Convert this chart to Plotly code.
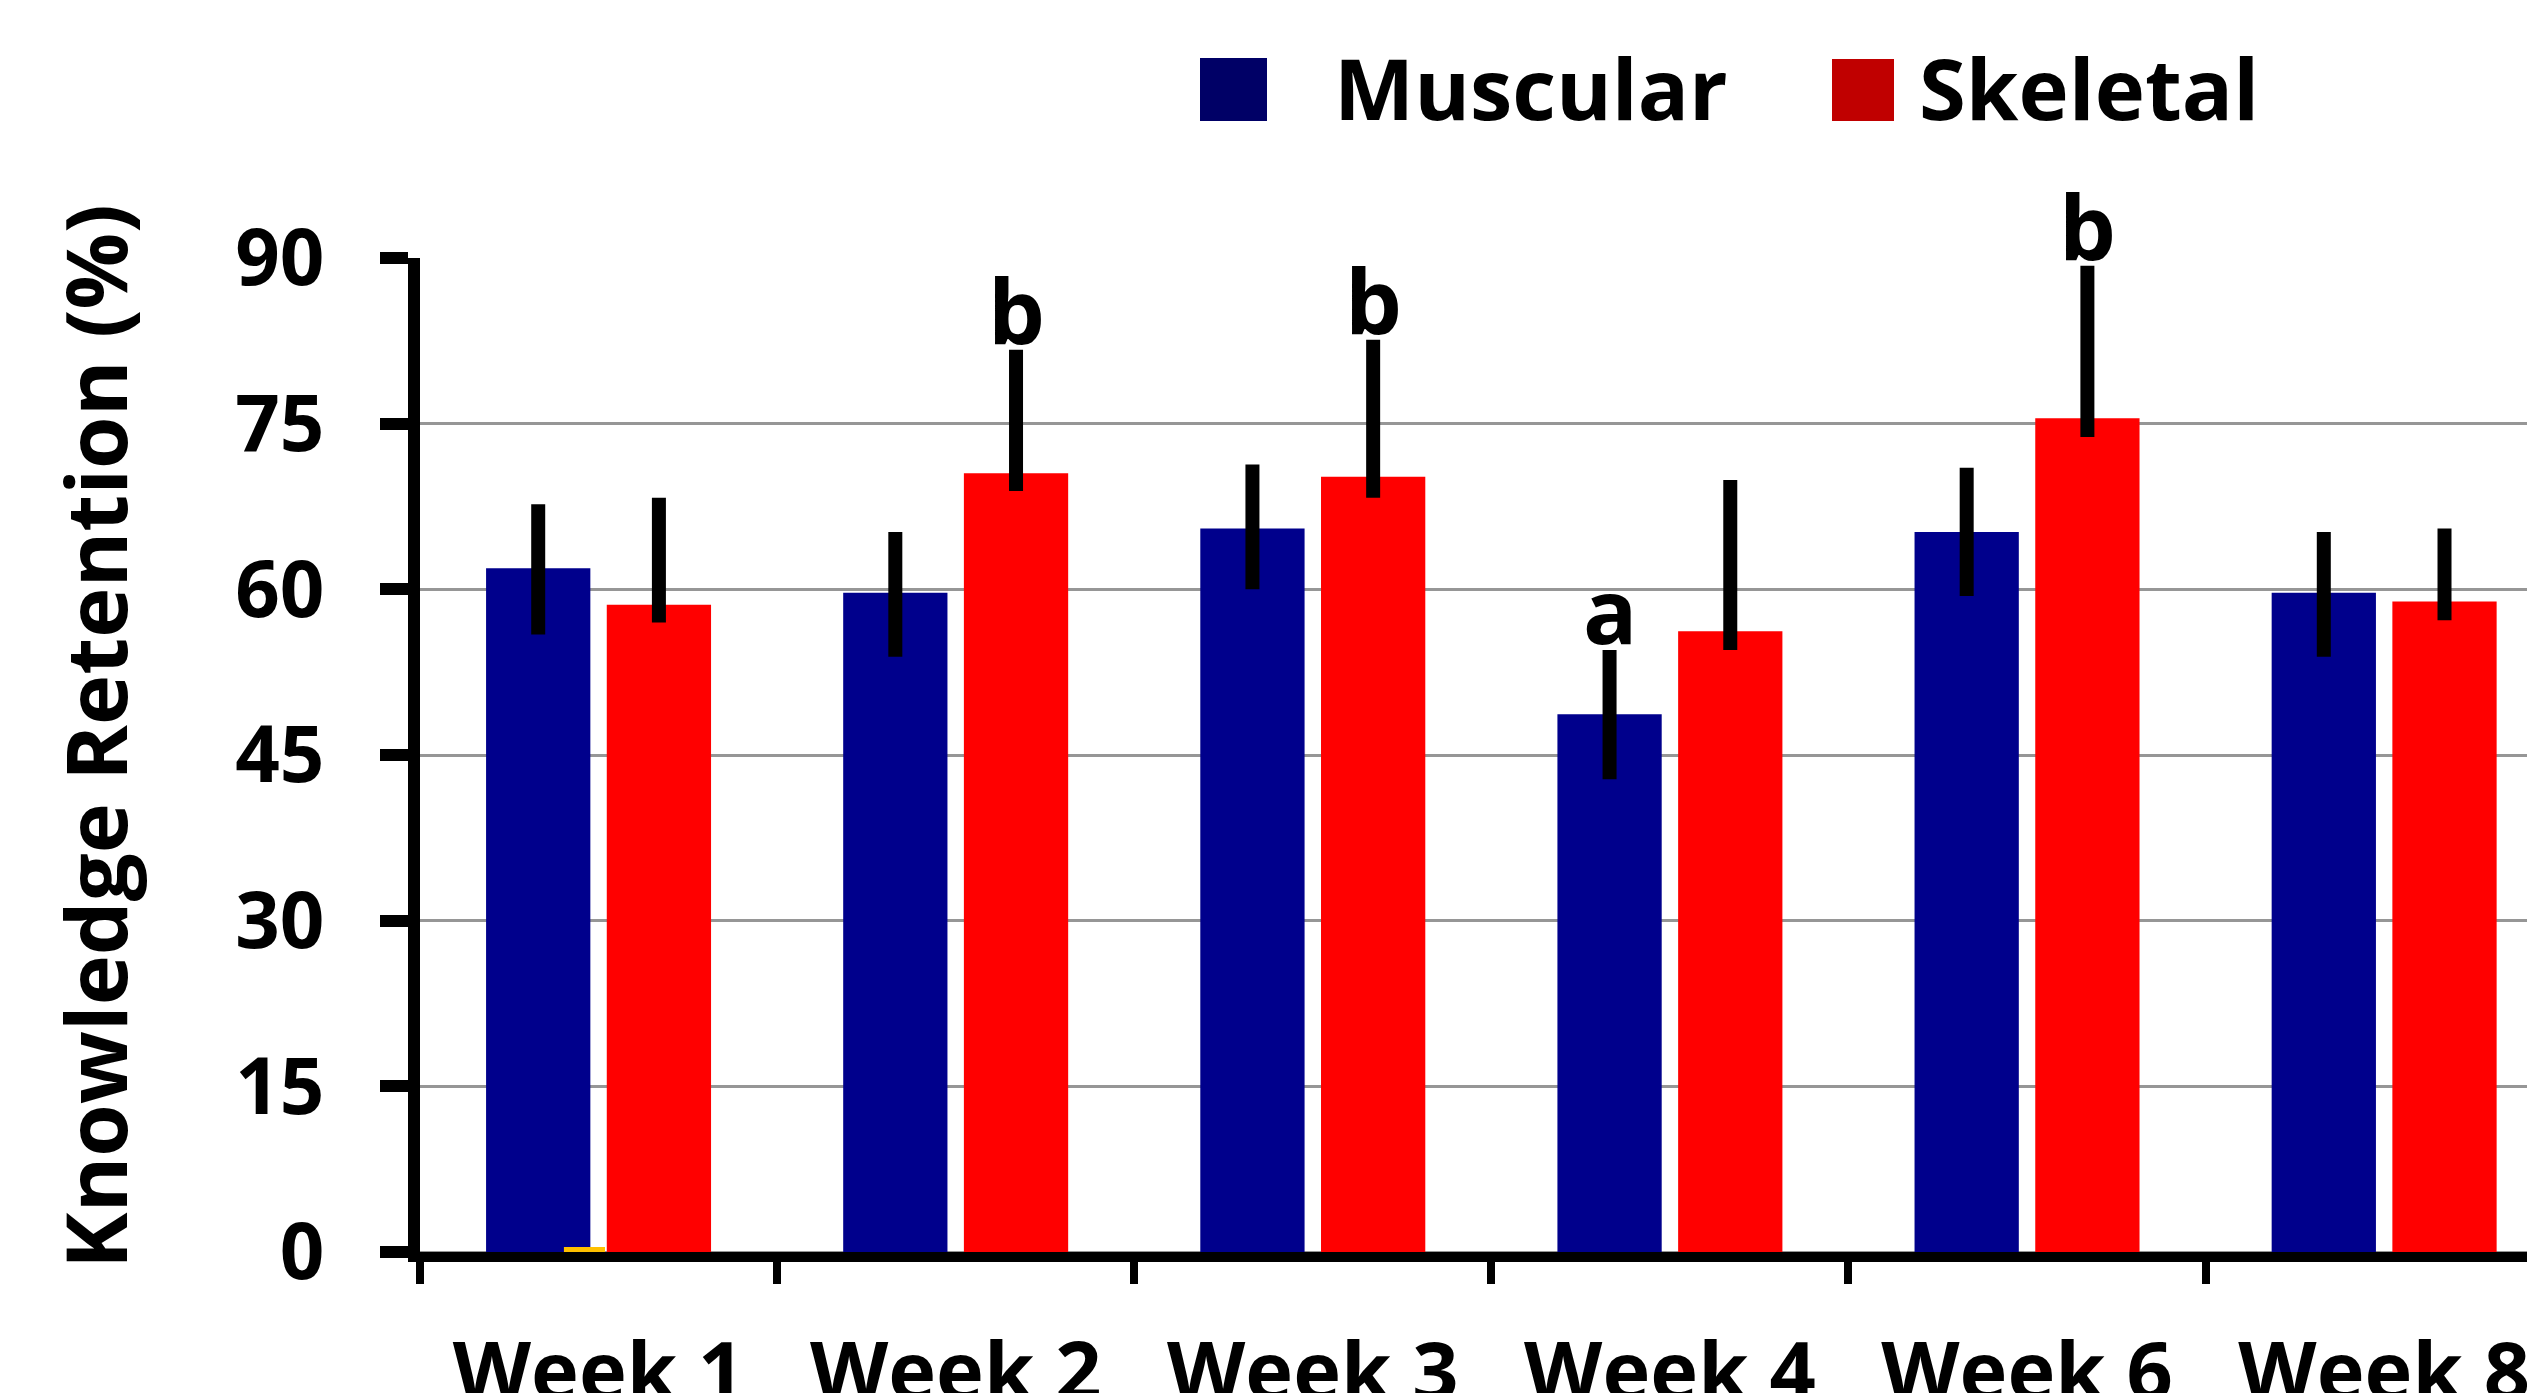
import plotly.graph_objects as go

# ---- data ----
weeks = ["Week 1", "Week 2", "Week 3", "Week 4", "Week 6", "Week 8"]
muscular = [61.9, 59.7, 65.5, 48.7, 65.2, 59.7]
muscular_err_plus = [5.8, 5.5, 5.8, 5.8, 5.8, 5.5]
muscular_err_minus = [6.0, 5.8, 5.5, 5.9, 5.8, 5.8]
skeletal = [58.6, 70.5, 70.2, 56.2, 75.5, 58.9]
skeletal_err_plus = [9.7, 11.2, 12.4, 13.7, 13.8, 6.6]
skeletal_err_minus = [1.6, 1.6, 1.9, 1.7, 1.7, 1.7]
stray_weeks = ["Week 1"]        # tiny yellow bar visible at the base of Week 1
stray_values = [0.45]
muscular_sig = ["", "", "", "a", "", ""]
skeletal_sig = ["", "b", "b", "", "b", ""]
y_ticks = [0, 15, 30, 45, 60, 75, 90]
y_title = "Knowledge Retention (%)"
series_names = ["Muscular", "Skeletal"]

# ---- layout constants ----
W, H = 2527, 1393
PL, PR, PT, PB = 420, W, 258, 1252
plot_w, plot_h = PR - PL, PB - PT
BAR_W = 0.292          # bar width in category units
BAR_SHIFT = 0.169      # distance of each bar centre from the category centre
FONT = "Open Sans"

def px(x):
    return (x - PL) / plot_w

def py(y):
    return (PB - y) / plot_h

bar_blue, bar_red, bar_yellow = "#00008C", "#FF0000", "#FFC000"
leg_blue, leg_red = "#000066", "#C00000"

fig = go.Figure()
fig.add_trace(go.Bar(
    name=series_names[0], x=weeks, y=muscular,
    width=BAR_W, offset=-BAR_SHIFT - BAR_W / 2,
    marker=dict(color=bar_blue, line=dict(width=0)),
    error_y=dict(type="data", symmetric=False, array=muscular_err_plus,
                 arrayminus=muscular_err_minus, thickness=14, width=0, color="black"),
    showlegend=False,
))
fig.add_trace(go.Bar(
    name="", x=stray_weeks, y=stray_values, width=0.115, offset=-0.097,
    marker=dict(color=bar_yellow, line=dict(width=0)), showlegend=False,
    hoverinfo="skip",
))
fig.add_trace(go.Bar(
    name=series_names[1], x=weeks, y=skeletal,
    width=BAR_W, offset=BAR_SHIFT - BAR_W / 2,
    marker=dict(color=bar_red, line=dict(width=0)),
    error_y=dict(type="data", symmetric=False, array=skeletal_err_plus,
                 arrayminus=skeletal_err_minus, thickness=14, width=0, color="black"),
    showlegend=False,
))

# significance letters
annotations = []
for sigs, vals, ep, sign in [(muscular_sig, muscular, muscular_err_plus, -1),
                             (skeletal_sig, skeletal, skeletal_err_plus, 1)]:
    for i, s in enumerate(sigs):
        if s:
            annotations.append(dict(
                x=i + sign * BAR_SHIFT, y=vals[i] + ep[i], xref="x", yref="y",
                text=s, showarrow=False, yanchor="bottom", yshift=-22,
                font=dict(family=FONT, size=90, color="black", weight="bold"),
            ))

# y title
annotations.append(dict(
    x=px(94), y=py(737), xref="paper", yref="paper", text=y_title,
    textangle=-90, showarrow=False, xanchor="center", yanchor="middle",
    font=dict(family=FONT, size=85, color="black", weight="bold"),
))

# legend (manual)
shapes = []
for (x0, x1, y0, y1, col), (tx, name) in zip(
    [(1200, 1267, 58, 121, leg_blue), (1832, 1894, 59, 121, leg_red)],
    [(1332, series_names[0]), (1917, series_names[1])],
):
    shapes.append(dict(type="rect", xref="paper", yref="paper",
                       x0=px(x0), x1=px(x1), y0=py(y1), y1=py(y0),
                       fillcolor=col, line=dict(width=0)))
    annotations.append(dict(
        x=px(tx), y=py(87), xref="paper", yref="paper", text=name,
        showarrow=False, xanchor="left", yanchor="middle",
        font=dict(family=FONT, size=85, color="black", weight="bold"),
    ))

fig.update_layout(
    width=W, height=H,
    margin=dict(l=PL, r=W - PR, t=PT, b=H - PB, pad=0),
    paper_bgcolor="white", plot_bgcolor="white",
    barmode="overlay",
    annotations=annotations, shapes=shapes,
    showlegend=False,
    xaxis=dict(
        type="category", categoryorder="array", categoryarray=weeks,
        range=[-0.5, 5.4], tickson="boundaries",
        ticks="outside", ticklen=22, tickwidth=8, tickcolor="black",
        showline=True, linewidth=10, linecolor="black",
        showgrid=False, zeroline=False, automargin=False,
        tickfont=dict(family=FONT, size=81, color="black", weight="bold"),
        ticklabelstandoff=41,
    ),
    yaxis=dict(
        range=[0, 90], tickvals=y_ticks, automargin=False,
        ticks="outside", ticklen=28, tickwidth=12, tickcolor="black",
        showline=True, linewidth=12, linecolor="black",
        showgrid=True, gridcolor="#969696", gridwidth=3,
        zeroline=True, zerolinecolor="#969696", zerolinewidth=3,
        tickfont=dict(family=FONT, size=78, color="black", weight="bold"),
        ticklabelstandoff=40,
    ),
)

fig.write_html(
    "out.html",
    config={"displayModeBar": False},
    post_script="document.body.style.margin='0';document.body.style.overflow='hidden';"
                "document.documentElement.style.overflow='hidden';",
)
